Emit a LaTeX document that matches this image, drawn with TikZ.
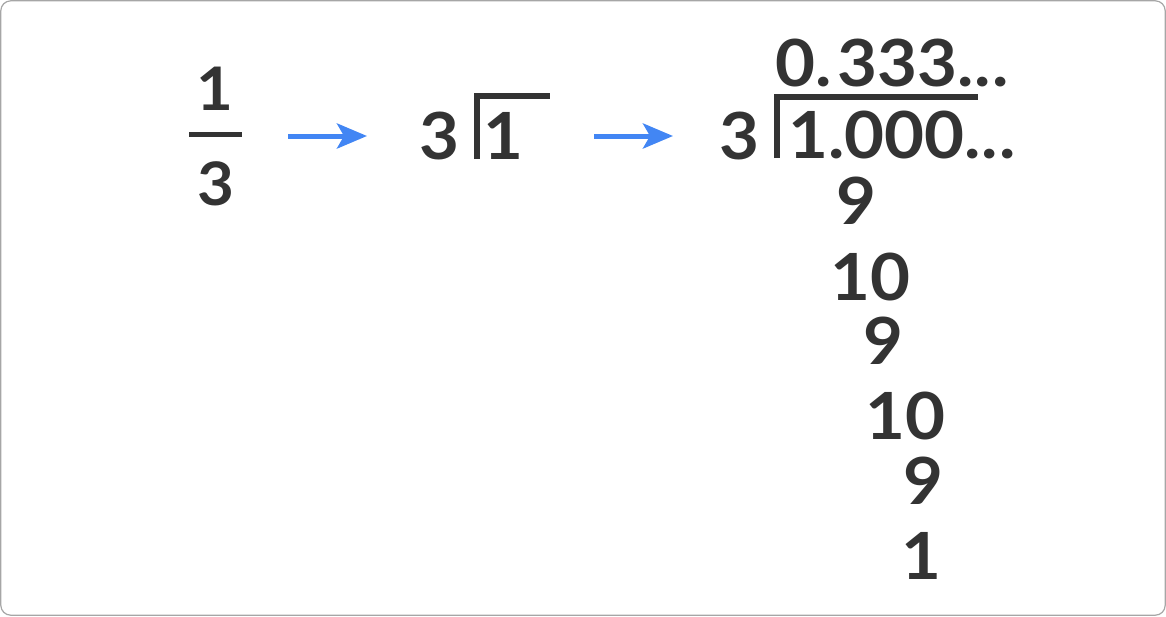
\documentclass[tikz,border=0pt]{standalone}
\usepackage{fontspec}
\setmainfont{Lato}[FakeStretch=1.06]
\usetikzlibrary{arrows.meta}
\definecolor{ink}{HTML}{333333}
\definecolor{arrowblue}{HTML}{4286F4}
\newcommand\bignum{\fontsize{65}{65}\selectfont\bfseries}
\newcommand\fracnum{\fontsize{60}{60}\selectfont\bfseries}

\begin{document}
\begin{tikzpicture}[x=1pt, y=-1pt,
  digit/.style={inner sep=0pt, anchor=base, text=ink, font=\bignum},
  arrowc/.style={arrowblue, line width=5pt, -{Stealth[length=30pt, width=25pt, inset=7pt]}},
  bracket/.style={ink, line width=6pt, line join=miter}]
\useasboundingbox (0,0) rectangle (1166,616);
\draw[gray!70, line width=1.2pt, rounded corners=10pt] (0.8,0.8) rectangle (1165.2,615.2);
% fraction
\node[digit, font=\fracnum] (num) at (215,110) {1};
\draw[ink, line width=5pt] (189,134.5) -- (242,134.5);
\node[digit, font=\fracnum] (den) at (216,205) {3};
% first arrow
\coordinate (a1s) at (288,136);
\coordinate (a1e) at (367,136);
\draw[arrowc] (a1s) -- (a1e);
% 3 ) 1
\node[digit] (dva) at (439.5,159) {3};
\draw[bracket] (476.5,159) |- (550,95.5);
\node[digit] (dda) at (503.5,159) {1};
% second arrow
\coordinate (a2s) at (594,136);
\coordinate (a2e) at (673,136);
\draw[arrowc] (a2s) -- (a2e);
% long division
\node[digit] (dvb) at (739.5,159) {3};
\draw[bracket] (776.5,158) |- (978,96.5);
\node[digit, anchor=base west] (ddb) at (788,158) {1.000.\kern1pt.\kern1pt.};
\node[digit, anchor=base west] (quot) at (775,86) {0.\hspace{6pt}333.\kern1pt.\kern1pt.};
\node[digit] (s1) at (856.5,224) {9};
\node[digit] (r1) at (870,300) {10};
\node[digit] (s2) at (883.5,364) {9};
\node[digit] (r2) at (905.5,439) {10};
\node[digit] (s3) at (923.5,504) {9};
\node[digit] (r3) at (921,579) {1};
\end{tikzpicture}
\end{document}
